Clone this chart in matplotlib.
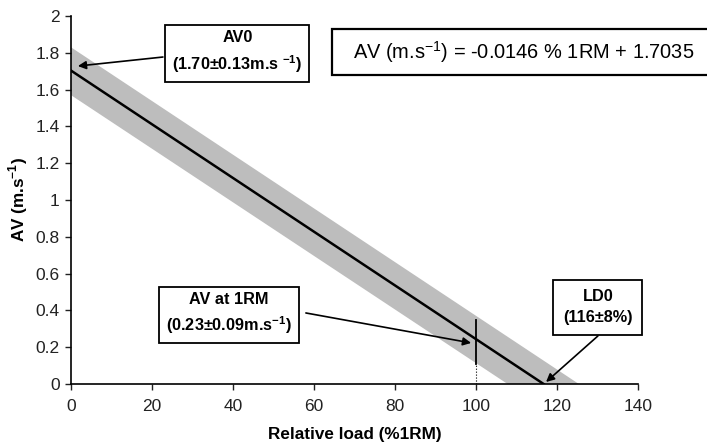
import matplotlib
matplotlib.use('Agg')
import matplotlib.pyplot as plt
from matplotlib.patches import Rectangle

plt.rcParams['font.family'] = ['Liberation Sans', 'DejaVu Sans']
plt.rcParams['mathtext.fontset'] = 'custom'
plt.rcParams['mathtext.rm'] = 'Liberation Sans'
plt.rcParams['mathtext.bf'] = 'Liberation Sans:bold'

# Recta de regresión (carga relativa vs velocidad media)
load = [0, 116.7]
av = [1.7035, 0]

# Banda de ±1 DE
band_load = [0, 125.4, 107.8, 0]
band_av = [1.83, 0, 0, 1.57]

# Velocidad a 1RM
rm_load = 100
rm_av_solid = [0.11, 0.35]
rm_av_dotted = [0, 0.11]

x_ticks = [0, 20, 40, 60, 80, 100, 120, 140]
y_ticks = [0, 0.2, 0.4, 0.6, 0.8, 1, 1.2, 1.4, 1.6, 1.8, 2]
y_tick_labels = ['0', '0.2', '0.4', '0.6', '0.8', '1', '1.2', '1.4', '1.6', '1.8', '2']

fig = plt.figure(figsize=(7.07, 4.43), dpi=100)
ax = fig.add_axes([0.1004, 0.1332, 0.802, 0.8307])

ax.fill(band_load, band_av, color='#bdbdbd', lw=0, zorder=1)
ax.plot(load, av, color='black', lw=1.8, zorder=3)
ax.plot([rm_load, rm_load], rm_av_solid, color='black', lw=1.3, zorder=4)
ax.plot([rm_load, rm_load], rm_av_dotted, color='black', lw=0.8, ls=':', zorder=4)

ax.set_xlim(0, 140)
ax.set_ylim(0, 2)
ax.set_xticks(x_ticks)
ax.set_yticks(y_ticks)
ax.set_yticklabels(y_tick_labels)
ax.tick_params(direction='out', length=4, width=1, labelsize=12.5, colors='#222222')
ax.tick_params(axis='x', pad=7)
ax.tick_params(axis='y', pad=4)
for s in ['top', 'right']:
    ax.spines[s].set_visible(False)
for s in ['left', 'bottom']:
    ax.spines[s].set_linewidth(1.2)

ax.set_xlabel('Relative load (%1RM)', fontsize=12.3, fontweight='bold', labelpad=9)
ax.set_ylabel('AV (m.s$^{\\mathbf{-1}}$)', fontsize=12.3, fontweight='bold', labelpad=4)

box = dict(boxstyle='square,pad=0.42', fc='white', ec='black', lw=1.3)
arrow = dict(arrowstyle='-|>', color='black', lw=1.2, mutation_scale=12, shrinkA=0, shrinkB=0)

# AV0
ax.text(41.1, 1.80, 'AV0\n(1.70±0.13m.s $^{\\mathbf{-1}}$)', ha='center', va='center',
        fontsize=11.7, fontweight='bold', linespacing=1.5, bbox=box, zorder=5)
ax.annotate('', xy=(1.7, 1.728), xytext=(22.7, 1.777), arrowprops=arrow, zorder=5)

# AV a 1RM
ax.text(39.0, 0.38, 'AV at 1RM\n(0.23±0.09m.s$^{\\mathbf{-1}}$)', ha='center', va='center',
        fontsize=11.7, fontweight='bold', linespacing=1.45, bbox=box, zorder=5)
ax.annotate('', xy=(98.8, 0.223), xytext=(58.0, 0.386), arrowprops=arrow, zorder=5)

# LD0
ax.text(130.1, 0.416, 'LD0\n(116±8%)', ha='center', va='center',
        fontsize=11.7, fontweight='bold', linespacing=1.5,
        bbox=dict(boxstyle='square,pad=0.6', fc='white', ec='black', lw=1.3), zorder=5)
ax.annotate('', xy=(117.3, 0.011), xytext=(130.1, 0.261), arrowprops=arrow, zorder=5)

# Ecuación
fig.patches.append(Rectangle((0.4696, 0.8307), 0.6, 0.1038, transform=fig.transFigure,
                             fc='white', ec='black', lw=1.6, zorder=6))
fig.text(0.741, 0.883, 'AV (m.s$^{-1}$) = -0.0146 % 1RM + 1.7035', ha='center', va='center',
         fontsize=14.4, zorder=7)

fig.savefig('out.png', dpi=100)
